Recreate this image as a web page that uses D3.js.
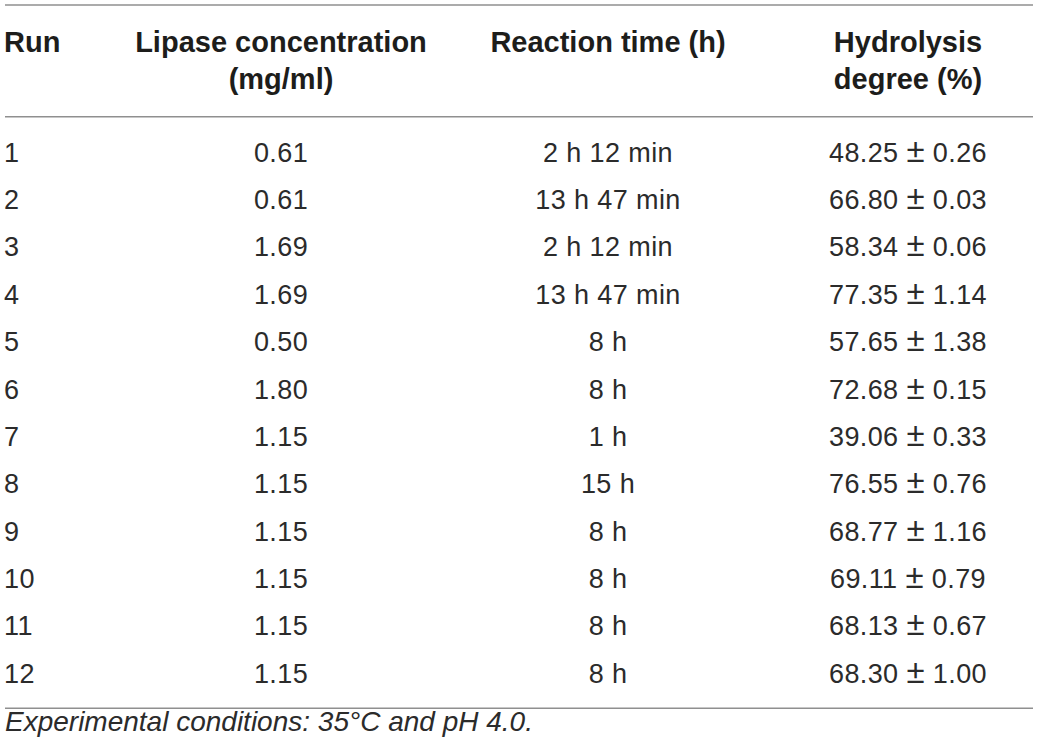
<!DOCTYPE html>
<html>
<head>
<meta charset="utf-8">
<script src="https://cdn.jsdelivr.net/npm/d3@7"></script>
<style>
  html, body { margin: 0; padding: 0; background: #fff; }
  svg { display: block; }
</style>
</head>
<body>
<div id="table"></div>
<script>
// response table: lipase hydrolysis runs

var runs = [1, 2, 3, 4, 5, 6, 7, 8, 9, 10, 11, 12];
var lipase = [0.61, 0.61, 1.69, 1.69, 0.50, 1.80, 1.15, 1.15, 1.15, 1.15, 1.15, 1.15];
var reactionTime = ["2 h 12 min", "13 h 47 min", "2 h 12 min", "13 h 47 min", "8 h", "8 h",
                    "1 h", "15 h", "8 h", "8 h", "8 h", "8 h"];
var hydrolysis = [48.25, 66.80, 58.34, 77.35, 57.65, 72.68, 39.06, 76.55, 68.77, 69.11, 68.13, 68.30];
var hydrolysisSd = [0.26, 0.03, 0.06, 1.14, 1.38, 0.15, 0.33, 0.76, 1.16, 0.79, 0.67, 1.00];

var headers = [
  ["Run"],
  ["Lipase concentration", "(mg/ml)"],
  ["Reaction time (h)"],
  ["Hydrolysis", "degree (%)"]
];
var caption = "Experimental conditions: 35\u00b0C and pH 4.0.";

var w = 1039,
    h = 756;

var font = "'Liberation Sans', Arial, Helvetica, sans-serif";
var f2 = d3.format(".2f");

var svg = d3.select("#table").append("svg")
    .attr("width", w)
    .attr("height", h);

// column anchors: first column left aligned, the rest centred
var colX = [4, 281, 608, 908];
var colAnchor = ["start", "middle", "middle", "middle"];

// row baselines
var y = d3.scaleLinear()
    .domain([0, runs.length - 1])
    .range([161.7, 682.7]);

// rules
var rules = [5, 116.7, 708.3];
svg.append("g").selectAll("line")
    .data(rules)
  .enter().append("line")
    .attr("x1", 5)
    .attr("x2", 1033)
    .attr("y1", function(d) { return d; })
    .attr("y2", function(d) { return d; })
    .attr("stroke", "#8f8f8f")
    .attr("stroke-width", 1.5);

// header
var head = svg.append("g")
    .attr("font-family", font)
    .attr("font-weight", "bold")
    .attr("font-size", 29)
    .attr("fill", "#1d1d1b");

headers.forEach(function(lines, i) {
  lines.forEach(function(t, j) {
    head.append("text")
      .text(t)
      .attr("x", colX[i])
      .attr("y", 52 + j * 36.5)
      .attr("text-anchor", colAnchor[i]);
  });
});

// body rows
var rows = runs.map(function(r, i) {
  return [
    [String(r)],
    [f2(lipase[i])],
    [reactionTime[i]],
    [f2(hydrolysis[i]) + " ", "\u00b1", " " + f2(hydrolysisSd[i])]
  ];
});

var body = svg.append("g")
    .attr("font-family", font)
    .attr("font-size", 27)
    .attr("letter-spacing", 0.4)
    .attr("fill", "#2b2b2b");

var row = body.selectAll("g.row")
    .data(rows)
  .enter().append("g")
    .attr("class", "row");

var cell = row.selectAll("text")
    .data(function(d, i) { return d.map(function(v) { return {v: v, r: i}; }); })
  .enter().append("text")
    .attr("x", function(d, i) { return colX[i]; })
    .attr("y", function(d) { return y(d.r); })
    .attr("text-anchor", function(d, i) { return colAnchor[i]; });

cell.selectAll("tspan")
    .data(function(d) { return d.v; })
  .enter().append("tspan")
    .text(function(d) { return d; })
    .attr("font-size", function(d) { return d === "\u00b1" ? 33 : null; });

// footnote
svg.append("text")
    .text(caption)
    .attr("x", 5)
    .attr("y", 731)
    .attr("font-family", font)
    .attr("font-style", "italic")
    .attr("font-size", 28)
    .attr("fill", "#2b2b2b");
</script>
</body>
</html>
